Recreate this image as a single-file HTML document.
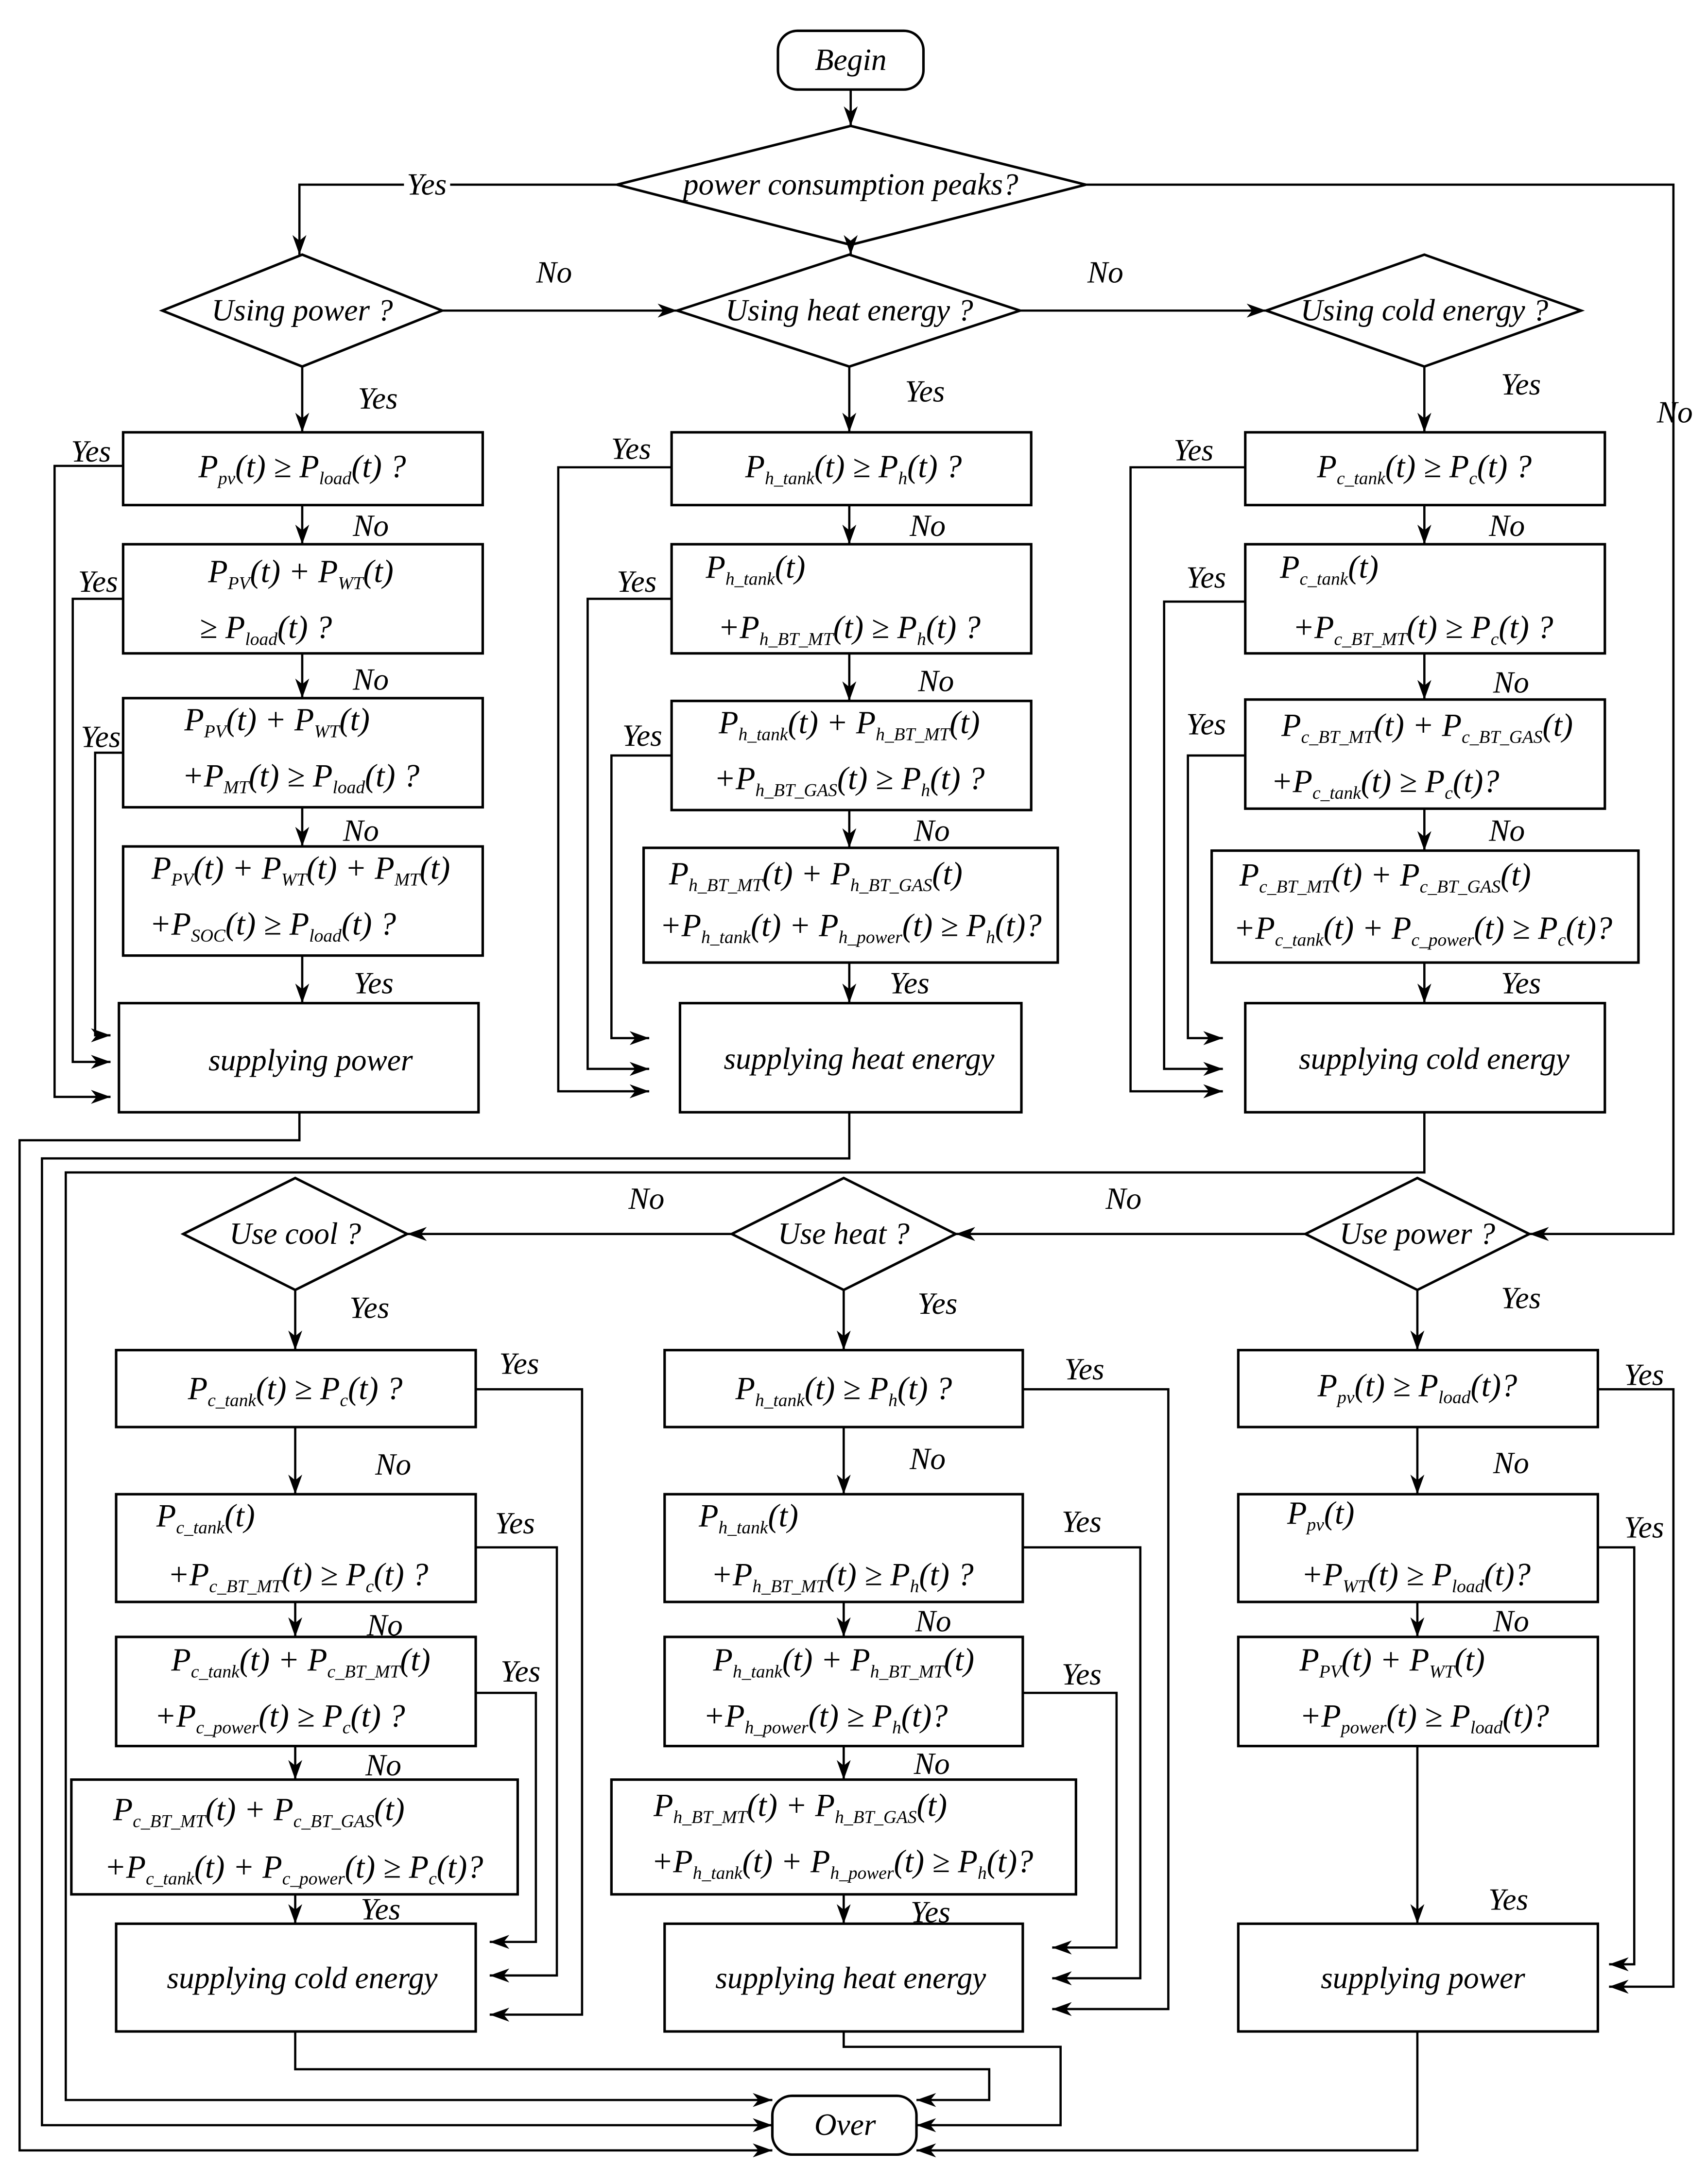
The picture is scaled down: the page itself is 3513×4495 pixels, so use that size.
<!DOCTYPE html>
<html><head><meta charset="utf-8"><style>
html,body{margin:0;padding:0;background:#fff;}
#w{position:relative;width:3513px;height:4495px;overflow:hidden;background:#fff;}
#s{position:absolute;left:0;top:0;width:1220px;height:1561px;transform:scale(2.8795);transform-origin:0 0;}
svg{position:absolute;left:0;top:0;}
.t{position:absolute;font-family:"Liberation Serif",serif;font-style:italic;font-size:22px;white-space:nowrap;transform:translate(-50%,-50%);line-height:1;color:#000;}
.m{font-size:23px;}
.t sub{font-size:13px;vertical-align:-5px;}
.bg{background:#fff;padding:0 2px;}
</style></head><body><div id="w"><div id="s">
<svg width="1220" height="1561" viewBox="0 0 1220 1561">
<defs><marker id="a" markerUnits="userSpaceOnUse" markerWidth="16" markerHeight="10" refX="14" refY="5" orient="auto"><path d="M0,0 L14,5 L0,10 L4,5z" fill="#000"/></marker></defs>
<g fill="none" stroke="#000" stroke-width="1.8">
<rect x="556" y="22" width="104" height="42" rx="14"/>
<rect x="552" y="1498" width="103" height="42" rx="14"/>
<polygon points="441,132 608,90 776,132 608,175"/>
<polygon points="116,222 216,182 316,222 216,262"/>
<polygon points="484,222 607,182 729,222 607,262"/>
<polygon points="905,222 1018,182 1130,222 1018,262"/>
<polygon points="131,882 211,842 291,882 211,922"/>
<polygon points="523,882 603,842 683,882 603,922"/>
<polygon points="933,882 1013,842 1093,882 1013,922"/>
<rect x="88" y="309" width="257" height="52"/><rect x="88" y="389" width="257" height="78"/><rect x="88" y="499" width="257" height="78"/><rect x="88" y="605" width="257" height="78"/><rect x="85" y="717" width="257" height="78"/>
<rect x="480" y="309" width="257" height="52"/><rect x="480" y="389" width="257" height="78"/><rect x="480" y="501" width="257" height="78"/><rect x="460" y="606" width="296" height="82"/><rect x="486" y="717" width="244" height="78"/>
<rect x="890" y="309" width="257" height="52"/><rect x="890" y="389" width="257" height="78"/><rect x="890" y="500" width="257" height="78"/><rect x="866" y="608" width="305" height="80"/><rect x="890" y="717" width="257" height="78"/>
<rect x="83" y="965" width="257" height="55"/><rect x="83" y="1068" width="257" height="77"/><rect x="83" y="1170" width="257" height="78"/><rect x="51" y="1272" width="319" height="82"/><rect x="83" y="1375" width="257" height="77"/>
<rect x="475" y="965" width="256" height="55"/><rect x="475" y="1068" width="256" height="77"/><rect x="475" y="1170" width="256" height="78"/><rect x="437" y="1272" width="332" height="82"/><rect x="475" y="1375" width="256" height="77"/>
<rect x="885" y="965" width="257" height="55"/><rect x="885" y="1068" width="257" height="77"/><rect x="885" y="1170" width="257" height="78"/><rect x="885" y="1375" width="257" height="77"/>
</g>
<g fill="none" stroke="#000" stroke-width="1.6" marker-end="url(#a)">
<path d="M608,64V90"/><path d="M441,132H214V182"/><path d="M776,132H1196V882H1093"/><path d="M608,175V182"/>
<path d="M316,222H484"/><path d="M729,222H905"/>
<path d="M216,262V309"/><path d="M216,361V389"/><path d="M216,467V499"/><path d="M216,577V605"/><path d="M216,683V717"/>
<path d="M88,333H39V784H79"/><path d="M88,428H52V759H79"/><path d="M88,538H68V740H79"/>
<path d="M607,262V309"/><path d="M607,361V389"/><path d="M607,467V501"/><path d="M607,579V606"/><path d="M607,688V717"/>
<path d="M480,334H399V780H464"/><path d="M480,428H420V764H464"/><path d="M480,540H437V742H464"/>
<path d="M1018,262V309"/><path d="M1018,361V389"/><path d="M1018,467V500"/><path d="M1018,578V608"/><path d="M1018,688V717"/>
<path d="M890,334H808V780H874"/><path d="M890,430H832V764H874"/><path d="M890,540H849V742H874"/>
<path d="M214,795V815H14V1537H552"/><path d="M607,795V828H30V1519H552"/><path d="M1018,795V838H47V1501H552"/>
<path d="M933,882H683"/><path d="M523,882H291"/>
<path d="M211,922V965"/><path d="M211,1020V1068"/><path d="M211,1145V1170"/><path d="M211,1248V1272"/><path d="M211,1354V1375"/>
<path d="M340,993H416V1440H350"/><path d="M340,1106H398V1412H350"/><path d="M340,1210H383V1388H350"/>
<path d="M603,922V965"/><path d="M603,1020V1068"/><path d="M603,1145V1170"/><path d="M603,1248V1272"/><path d="M603,1354V1375"/>
<path d="M731,993H835V1436H752"/><path d="M731,1106H815V1414H752"/><path d="M731,1210H798V1392H752"/>
<path d="M1013,922V965"/><path d="M1013,1020V1068"/><path d="M1013,1145V1170"/><path d="M1013,1248V1375"/>
<path d="M1142,993H1196V1420H1150"/><path d="M1142,1106H1168V1404H1150"/>
<path d="M211,1452V1479H707V1501H655"/><path d="M603,1452V1463H758V1519H655"/><path d="M1013,1452V1537H655"/>
</g>
</svg>
<div class="t" style="left:608px;top:43px">Begin</div>
<div class="t" style="left:604px;top:1519px">Over</div>
<div class="t" style="left:608px;top:132px">power consumption peaks?</div>
<div class="t" style="left:216px;top:222px">Using power ?</div>
<div class="t" style="left:607px;top:222px">Using heat energy ?</div>
<div class="t" style="left:1018px;top:222px">Using cold energy ?</div>
<div class="t" style="left:211px;top:882px">Use cool ?</div>
<div class="t" style="left:603px;top:882px">Use heat ?</div>
<div class="t" style="left:1013px;top:882px">Use power ?</div>

<div class="t bg" style="left:305px;top:132px">Yes</div>
<div class="t" style="left:396px;top:195px">No</div><div class="t" style="left:790px;top:195px">No</div>
<div class="t" style="left:1197px;top:295px">No</div>
<div class="t" style="left:270px;top:285px">Yes</div><div class="t" style="left:265px;top:376px">No</div><div class="t" style="left:265px;top:486px">No</div><div class="t" style="left:258px;top:594px">No</div><div class="t" style="left:267px;top:703px">Yes</div>
<div class="t" style="left:65px;top:323px">Yes</div><div class="t" style="left:70px;top:416px">Yes</div><div class="t" style="left:72px;top:527px">Yes</div>
<div class="t" style="left:661px;top:280px">Yes</div><div class="t" style="left:663px;top:376px">No</div><div class="t" style="left:669px;top:487px">No</div><div class="t" style="left:666px;top:594px">No</div><div class="t" style="left:650px;top:703px">Yes</div>
<div class="t" style="left:451px;top:321px">Yes</div><div class="t" style="left:455px;top:416px">Yes</div><div class="t" style="left:459px;top:526px">Yes</div>
<div class="t" style="left:1087px;top:275px">Yes</div><div class="t" style="left:1077px;top:376px">No</div><div class="t" style="left:1080px;top:488px">No</div><div class="t" style="left:1077px;top:594px">No</div><div class="t" style="left:1087px;top:703px">Yes</div>
<div class="t" style="left:853px;top:322px">Yes</div><div class="t" style="left:862px;top:413px">Yes</div><div class="t" style="left:862px;top:518px">Yes</div>
<div class="t" style="left:462px;top:857px">No</div><div class="t" style="left:803px;top:857px">No</div>
<div class="t" style="left:264px;top:935px">Yes</div><div class="t" style="left:281px;top:1047px">No</div><div class="t" style="left:275px;top:1162px">No</div><div class="t" style="left:274px;top:1262px">No</div><div class="t" style="left:272px;top:1365px">Yes</div>
<div class="t" style="left:371px;top:975px">Yes</div><div class="t" style="left:368px;top:1089px">Yes</div><div class="t" style="left:372px;top:1195px">Yes</div>
<div class="t" style="left:670px;top:932px">Yes</div><div class="t" style="left:663px;top:1043px">No</div><div class="t" style="left:667px;top:1159px">No</div><div class="t" style="left:666px;top:1261px">No</div><div class="t" style="left:665px;top:1367px">Yes</div>
<div class="t" style="left:775px;top:979px">Yes</div><div class="t" style="left:773px;top:1088px">Yes</div><div class="t" style="left:773px;top:1197px">Yes</div>
<div class="t" style="left:1087px;top:928px">Yes</div><div class="t" style="left:1080px;top:1046px">No</div><div class="t" style="left:1080px;top:1159px">No</div><div class="t" style="left:1078px;top:1358px">Yes</div>
<div class="t" style="left:1175px;top:983px">Yes</div><div class="t" style="left:1175px;top:1092px">Yes</div>

<div class="t m" style="left:216px;top:335px">P<sub>pv</sub>(t) ≥ P<sub>load</sub>(t) ?</div>
<div class="t m" style="left:215px;top:410px">P<sub>PV</sub>(t) + P<sub>WT</sub>(t)</div>
<div class="t m" style="left:190px;top:450px">≥ P<sub>load</sub>(t) ?</div>
<div class="t m" style="left:198px;top:516px">P<sub>PV</sub>(t) + P<sub>WT</sub>(t)</div>
<div class="t m" style="left:215px;top:556px">+P<sub>MT</sub>(t) ≥ P<sub>load</sub>(t) ?</div>
<div class="t m" style="left:215px;top:622px">P<sub>PV</sub>(t) + P<sub>WT</sub>(t) + P<sub>MT</sub>(t)</div>
<div class="t m" style="left:195px;top:662px">+P<sub>SOC</sub>(t) ≥ P<sub>load</sub>(t) ?</div>
<div class="t" style="left:222px;top:758px">supplying power</div>

<div class="t m" style="left:610px;top:335px">P<sub>h_tank</sub>(t) ≥ P<sub>h</sub>(t) ?</div>
<div class="t m" style="left:540px;top:407px">P<sub>h_tank</sub>(t)</div>
<div class="t m" style="left:607px;top:450px">+P<sub>h_BT_MT</sub>(t) ≥ P<sub>h</sub>(t) ?</div>
<div class="t m" style="left:607px;top:518px">P<sub>h_tank</sub>(t) + P<sub>h_BT_MT</sub>(t)</div>
<div class="t m" style="left:607px;top:558px">+P<sub>h_BT_GAS</sub>(t) ≥ P<sub>h</sub>(t) ?</div>
<div class="t m" style="left:583px;top:626px">P<sub>h_BT_MT</sub>(t) + P<sub>h_BT_GAS</sub>(t)</div>
<div class="t m" style="left:608px;top:663px">+P<sub>h_tank</sub>(t) + P<sub>h_power</sub>(t) ≥ P<sub>h</sub>(t)?</div>
<div class="t" style="left:614px;top:757px">supplying heat energy</div>

<div class="t m" style="left:1018px;top:335px">P<sub>c_tank</sub>(t) ≥ P<sub>c</sub>(t) ?</div>
<div class="t m" style="left:950px;top:407px">P<sub>c_tank</sub>(t)</div>
<div class="t m" style="left:1017px;top:450px">+P<sub>c_BT_MT</sub>(t) ≥ P<sub>c</sub>(t) ?</div>
<div class="t m" style="left:1020px;top:520px">P<sub>c_BT_MT</sub>(t) + P<sub>c_BT_GAS</sub>(t)</div>
<div class="t m" style="left:990px;top:560px">+P<sub>c_tank</sub>(t) ≥ P<sub>c</sub>(t)?</div>
<div class="t m" style="left:990px;top:627px">P<sub>c_BT_MT</sub>(t) + P<sub>c_BT_GAS</sub>(t)</div>
<div class="t m" style="left:1017px;top:665px">+P<sub>c_tank</sub>(t) + P<sub>c_power</sub>(t) ≥ P<sub>c</sub>(t)?</div>
<div class="t" style="left:1025px;top:757px">supplying cold energy</div>

<div class="t m" style="left:211px;top:994px">P<sub>c_tank</sub>(t) ≥ P<sub>c</sub>(t) ?</div>
<div class="t m" style="left:147px;top:1085px">P<sub>c_tank</sub>(t)</div>
<div class="t m" style="left:213px;top:1127px">+P<sub>c_BT_MT</sub>(t) ≥ P<sub>c</sub>(t) ?</div>
<div class="t m" style="left:215px;top:1188px">P<sub>c_tank</sub>(t) + P<sub>c_BT_MT</sub>(t)</div>
<div class="t m" style="left:200px;top:1228px">+P<sub>c_power</sub>(t) ≥ P<sub>c</sub>(t) ?</div>
<div class="t m" style="left:185px;top:1295px">P<sub>c_BT_MT</sub>(t) + P<sub>c_BT_GAS</sub>(t)</div>
<div class="t m" style="left:210px;top:1336px">+P<sub>c_tank</sub>(t) + P<sub>c_power</sub>(t) ≥ P<sub>c</sub>(t)?</div>
<div class="t" style="left:216px;top:1414px">supplying cold energy</div>

<div class="t m" style="left:603px;top:994px">P<sub>h_tank</sub>(t) ≥ P<sub>h</sub>(t) ?</div>
<div class="t m" style="left:535px;top:1085px">P<sub>h_tank</sub>(t)</div>
<div class="t m" style="left:602px;top:1127px">+P<sub>h_BT_MT</sub>(t) ≥ P<sub>h</sub>(t) ?</div>
<div class="t m" style="left:603px;top:1188px">P<sub>h_tank</sub>(t) + P<sub>h_BT_MT</sub>(t)</div>
<div class="t m" style="left:590px;top:1228px">+P<sub>h_power</sub>(t) ≥ P<sub>h</sub>(t)?</div>
<div class="t m" style="left:572px;top:1292px">P<sub>h_BT_MT</sub>(t) + P<sub>h_BT_GAS</sub>(t)</div>
<div class="t m" style="left:602px;top:1332px">+P<sub>h_tank</sub>(t) + P<sub>h_power</sub>(t) ≥ P<sub>h</sub>(t)?</div>
<div class="t" style="left:608px;top:1414px">supplying heat energy</div>

<div class="t m" style="left:1013px;top:992px">P<sub>pv</sub>(t) ≥ P<sub>load</sub>(t)?</div>
<div class="t m" style="left:944px;top:1083px">P<sub>pv</sub>(t)</div>
<div class="t m" style="left:1012px;top:1127px">+P<sub>WT</sub>(t) ≥ P<sub>load</sub>(t)?</div>
<div class="t m" style="left:995px;top:1188px">P<sub>PV</sub>(t) + P<sub>WT</sub>(t)</div>
<div class="t m" style="left:1018px;top:1228px">+P<sub>power</sub>(t) ≥ P<sub>load</sub>(t)?</div>
<div class="t" style="left:1017px;top:1414px">supplying power</div>
</div></div></body></html>
